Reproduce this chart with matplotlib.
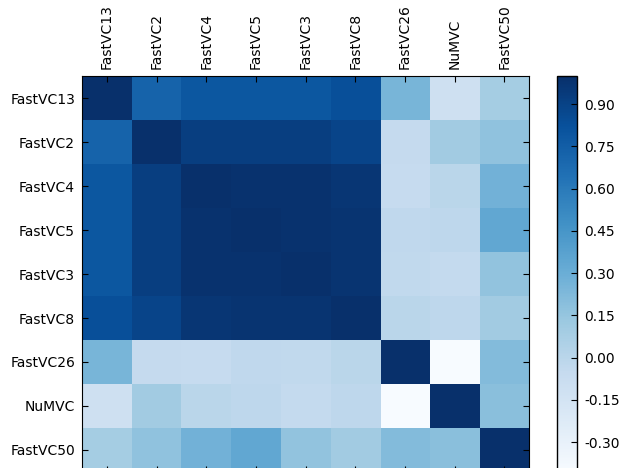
""" Correlation matrix of vertex cover solvers. """

import numpy as np
from matplotlib import pyplot as plt

solvers = ['FastVC13', 'FastVC2', 'FastVC4', 'FastVC5', 'FastVC3',
           'FastVC8', 'FastVC26', 'NuMVC', 'FastVC50']

# Upper triangle of the correlation matrix, row by row
corr_rows = [
    [1.00, 0.72, 0.79, 0.79, 0.79, 0.83, 0.25, -0.11, 0.09],
    [1.00, 0.92, 0.92, 0.92, 0.89, -0.05, 0.10, 0.17],
    [1.00, 0.985, 0.985, 0.965, -0.055, 0.00, 0.27],
    [1.00, 0.985, 0.975, -0.03, -0.02, 0.34],
    [1.00, 0.975, -0.035, -0.045, 0.16],
    [1.00, 0.00, -0.02, 0.10],
    [1.00, -0.406, 0.21],
    [1.00, 0.19],
    [1.00],
]

cb_ticks = [-0.30, -0.15, 0.00, 0.15, 0.30, 0.45, 0.60, 0.75, 0.90]

# Build the full symmetric matrix
n = len(solvers)
corr = np.zeros((n, n))
for i, row in enumerate(corr_rows):
    corr[i, i:] = row
    corr[i:, i] = row

fig = plt.figure(figsize=(6.28, 4.68), dpi=100)
ax = fig.add_axes([0.1306, -0.0085, 0.7118, 0.846])
img = ax.imshow(corr, cmap='Blues', interpolation='nearest', aspect='auto')

ax.set_xticks(np.arange(n))
ax.set_yticks(np.arange(n))
ax.set_xticklabels(solvers, rotation=90)
ax.set_yticklabels(solvers)
ax.tick_params(direction='in', length=4, labelsize=10, top=True, bottom=True,
               left=True, right=True, labeltop=True, labelbottom=False, pad=5)

# Colorbar
cax = fig.add_axes([0.887, -0.0085, 0.0318, 0.846])
cb = fig.colorbar(img, cax=cax, ticks=cb_ticks, format='%.2f')
cb.ax.tick_params(direction='in', length=4, labelsize=10, pad=5)
cb.outline.set_linewidth(1.0)

fig.savefig('out.png', dpi=100)
